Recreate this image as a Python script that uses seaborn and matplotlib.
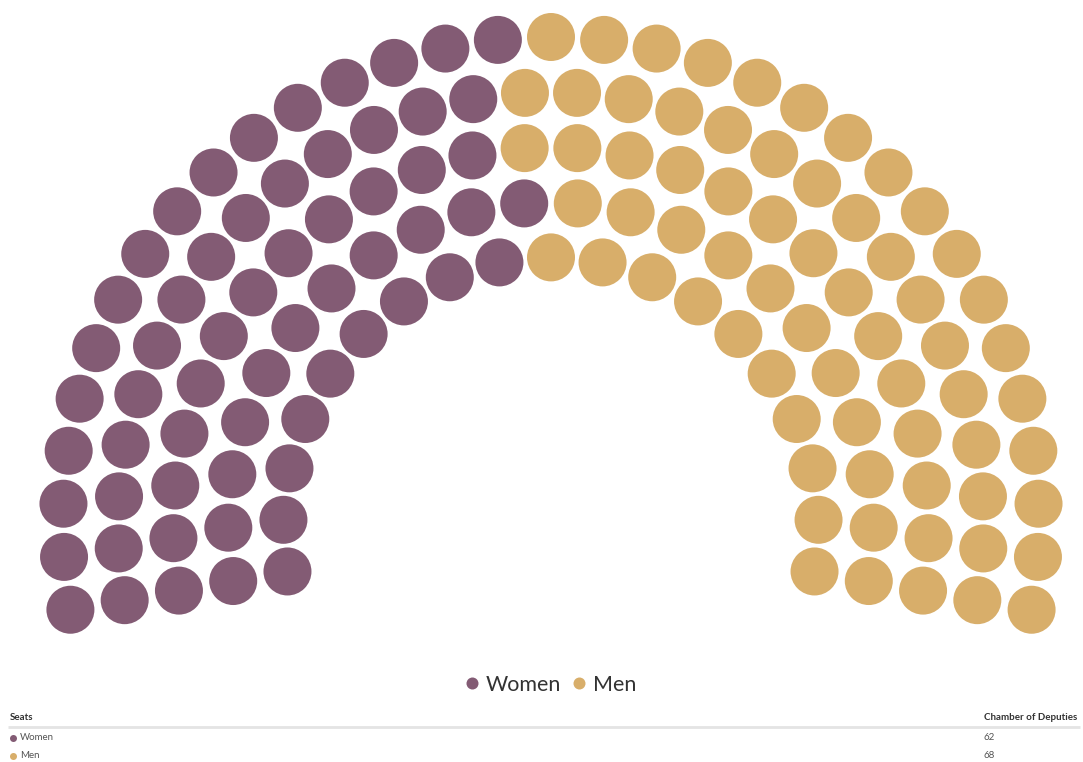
import numpy as np
import pandas as pd
import matplotlib
matplotlib.use("Agg")
import matplotlib.pyplot as plt
import seaborn as sns
from matplotlib.lines import Line2D

# ---- data ----
categories = ["Women", "Men"]
seats = [62, 68]
colors = ["#835b74", "#d8ae6a"]
table_header = ["Seats", "Chamber of Deputies"]

# ---- layout (pixels) ----
W, H = 1083, 762
CX, CY = 551, 525
DIAM = 1029
INNER = 425
START_DEG, END_DEG = -100, 100


def parliament_slots(total, diameter, inner, start_deg, end_deg):
    start = np.deg2rad(start_deg - 90)
    end = np.deg2rad(end_deg - 90)
    full = end - start
    frac = (diameter - inner) / diameter
    item_size = 0
    item_count = float("inf")
    rows, test_rows = None, []
    final_count = None
    while item_count > total:
        final_count = item_count
        item_count = 0
        rows = test_rows
        test_rows = []
        item_size += 1
        row_count = int(np.floor(diameter / item_size / 2 * frac))
        for k in range(row_count, 0, -1):
            r = (inner + k / row_count * (diameter - inner - item_size)) / 2
            length = full * r
            cols = int(np.ceil(length / item_size))
            test_rows.append({"r": r, "len": length, "cols": cols})
            item_count += cols + 1
    overshoot = final_count - total
    while overshoot > 0:
        order = sorted(rows, key=lambda rw: rw["cols"] / rw["len"], reverse=True)
        for rw in order[:min(overshoot, int(np.ceil(len(rows) / 2)))]:
            if overshoot > 0:
                rw["cols"] -= 1
                overshoot -= 1
    slots = []
    for rw in rows:
        inc = full / rw["cols"] if rw["cols"] else 0
        for c in range(rw["cols"] + 1):
            slots.append((start + c * inc, rw["r"]))
    slots.sort(key=lambda t: t[0])
    return slots, item_size


total = sum(seats)
slots, item_size = parliament_slots(total, DIAM, INNER, START_DEG, END_DEG)
labels = []
for cat, n in zip(categories, seats):
    labels += [cat] * n
df = pd.DataFrame({
    "x": [CX + np.cos(a) * r for a, r in slots],
    "y": [CY + np.sin(a) * r for a, r in slots],
    "party": labels,
})

sns.set_style("white")
plt.rcParams["font.family"] = ["Lato", "DejaVu Sans"]

fig = plt.figure(figsize=(W / 100, H / 100), dpi=100)
ax = fig.add_axes([0, 0, 1, 1])
ax.set_xlim(0, W)
ax.set_ylim(H, 0)
ax.axis("off")

diam_px = 48
s = (diam_px * 72 / 100) ** 2
sns.scatterplot(data=df, x="x", y="y", hue="party", hue_order=categories,
                palette=colors, s=s, linewidth=0, legend=False, ax=ax)

# legend
handles = [Line2D([], [], marker="o", ls="", color=c, markersize=12 * 0.72,
                  markeredgewidth=0) for c in colors]
fig.legend(handles, categories, loc="center", ncol=2, frameon=False,
           bbox_to_anchor=(549 / W, 1 - 685 / H), fontsize=15.5,
           handletextpad=0.15, columnspacing=0.33, handlelength=1.0,
           labelcolor="#333333")

# data table
ax.text(10, 717, table_header[0], fontsize=7, fontweight="bold", color="#333333",
        va="center", ha="left")
ax.text(984, 717, table_header[1], fontsize=7, fontweight="bold", color="#333333",
        va="center", ha="left")
ax.plot([8, 1080], [727, 727], color="#e4e4e4", lw=2, solid_capstyle="butt")
for i, (cat, n, c) in enumerate(zip(categories, seats, colors)):
    yy = 738 + i * 18
    ax.plot([13], [yy], marker="o", ls="", color=c, markersize=7 * 0.72,
            markeredgewidth=0)
    ax.text(20, yy, cat, fontsize=7, color="#555555", va="center", ha="left")
    ax.text(984, yy, str(n), fontsize=7, color="#555555", va="center", ha="left")

fig.savefig("out.png", dpi=100, facecolor="white")
